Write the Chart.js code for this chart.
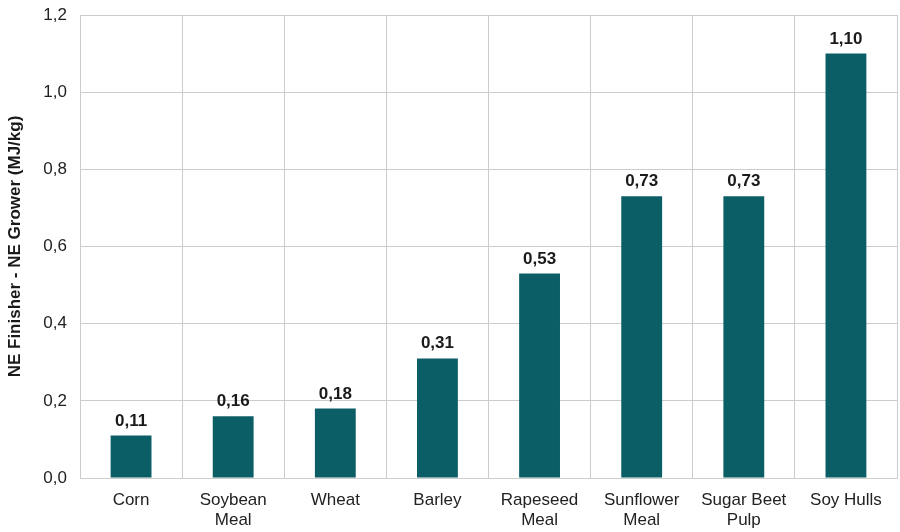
<!DOCTYPE html>
<html>
<head>
<meta charset="utf-8">
<script src="https://cdn.jsdelivr.net/npm/chart.js@4/dist/chart.umd.min.js"></script>
<style>
  html, body { margin: 0; padding: 0; background: #fff; }
  #wrap { width: 900px; height: 532px; }
</style>
</head>
<body>
<div id="wrap"><canvas id="chart" width="900" height="532"></canvas></div>
<script>
// Dữ liệu
const categories = ['Corn', ['Soybean', 'Meal'], 'Wheat', 'Barley', ['Rapeseed', 'Meal'],
    ['Sunflower', 'Meal'], ['Sugar Beet', 'Pulp'], 'Soy Hulls'];
const values = [0.11, 0.16, 0.18, 0.31, 0.53, 0.73, 0.73, 1.10];
const yTicks = [0, 0.2, 0.4, 0.6, 0.8, 1.0, 1.2];

const FONT = "'Liberation Sans', Arial, sans-serif";

function comma(v, digits) {
    return v.toFixed(digits).replace('.', ',');
}

// nhãn giá trị trên cột
const barLabels = {
    id: 'barLabels',
    afterDatasetsDraw(chart) {
        const ctx = chart.ctx;
        const meta = chart.getDatasetMeta(0);
        ctx.save();
        ctx.font = "bold 17px " + FONT;
        ctx.fillStyle = '#1a1a1a';
        ctx.textAlign = 'center';
        ctx.textBaseline = 'alphabetic';
        meta.data.forEach(function (bar, i) {
            ctx.fillText(comma(values[i], 2), bar.x, bar.y - 10);
        });
        ctx.restore();
    }
};

const ctx = document.getElementById('chart').getContext('2d');
new Chart(ctx, {
    type: 'bar',
    data: {
        labels: categories,
        datasets: [{
            data: values,
            backgroundColor: '#0b5e66',
            borderWidth: 0,
            barPercentage: 0.4,
            categoryPercentage: 1.0
        }]
    },
    options: {
        responsive: false,
        animation: false,
        events: [],
        layout: { padding: { top: 0, right: 3, left: 0, bottom: 0 } },
        plugins: {
            legend: { display: false },
            tooltip: { enabled: false }
        },
        scales: {
            x: {
                grid: { color: '#cccccc', drawTicks: false, offset: true },
                border: { color: '#cccccc' },
                ticks: {
                    color: '#222',
                    padding: 12,
                    font: { family: FONT, size: 17, lineHeight: 1.18 },
                    maxRotation: 0,
                    autoSkip: false
                },
                afterFit: function (scale) {
                    scale.height = 54;
                    scale.paddingLeft = 0;
                    scale.paddingRight = 0;
                }
            },
            y: {
                min: 0,
                max: 1.2,
                afterBuildTicks: function (scale) {
                    scale.ticks = yTicks.map(function (v) { return { value: v }; });
                },
                grid: { color: '#cccccc', drawTicks: false },
                border: { display: false },
                ticks: {
                    color: '#222',
                    padding: 13,
                    font: { family: FONT, size: 17 },
                    callback: function (v) { return comma(v, 1); }
                },
                title: {
                    display: true,
                    text: 'NE Finisher - NE Grower (MJ/kg)',
                    color: '#1a1a1a',
                    font: { family: FONT, size: 17, weight: 'bold' },
                    padding: { top: 5, bottom: 0 }
                },
                afterFit: function (scale) {
                    scale.width = 80;
                    scale.paddingTop = 15;
                    scale.paddingBottom = 0;
                }
            }
        }
    },
    plugins: [barLabels]
});
</script>
</body>
</html>
